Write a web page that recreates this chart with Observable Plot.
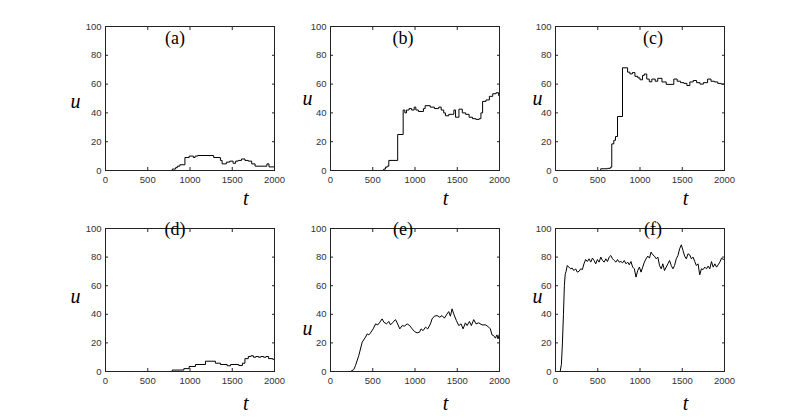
<!DOCTYPE html>
<html><head><meta charset="utf-8">
<script src="https://cdn.jsdelivr.net/npm/d3@7"></script>
<script src="https://cdn.jsdelivr.net/npm/@observablehq/plot@0.6"></script>
<style>
body{margin:0;background:#fff;}
#chart{position:relative;width:803px;height:419px;overflow:hidden;background:#fff;}
.panel{position:absolute;}
</style></head><body><div id="chart"></div>
<script>
// ---- data ----
const xTicks = [0, 500, 1000, 1500, 2000];
const yTicks = [0, 20, 40, 60, 80, 100];
const panelLabels = ["(a)", "(b)", "(c)", "(d)", "(e)", "(f)"];

const tA = [0, 790, 830, 850, 880, 940, 990, 1040, 1060, 1090, 1280, 1360, 1380, 1430, 1470, 1510, 1540, 1570, 1610, 1650, 1690, 1730, 1770, 1910, 1935, 2000];
const uA = [0, 1, 2, 3, 4, 9, 10, 9, 10, 10.4, 9, 7, 4.6, 5.8, 6.5, 5, 6.5, 7, 8, 7, 6.5, 4.6, 3, 4.6, 2.5, 2.5];

const tB = [0, 630, 650, 670, 690, 795, 860, 880, 900, 930, 960, 990, 1010, 1040, 1100, 1120, 1180, 1230, 1280, 1310, 1340, 1360, 1400, 1440, 1460, 1480, 1520, 1560, 1600, 1640, 1680, 1720, 1760, 1780, 1800, 1840, 1880, 1920, 1960, 1990, 2000];
const uB = [0, 1, 2.3, 3, 7, 25, 42, 40, 42, 43, 42, 44, 42, 41, 43, 45, 44, 43, 44, 42, 40, 38, 39, 39, 42, 37, 42.6, 40, 39, 37, 36, 35.5, 36, 40, 48, 49, 51.5, 53.3, 54, 52, 49];

const tC = [0, 535, 615, 650, 666, 690, 710, 734, 793, 853, 880, 910, 940, 975, 1000, 1030, 1050, 1080, 1110, 1140, 1180, 1210, 1260, 1310, 1400, 1440, 1480, 1520, 1555, 1590, 1630, 1670, 1710, 1750, 1800, 1840, 1880, 1920, 1960, 2000];
const uC = [0, 1.2, 1.5, 2.3, 18.5, 21, 23.6, 37.5, 71.3, 68.3, 67.1, 68, 65.4, 64.3, 63, 66, 67, 63.5, 61.6, 63.5, 62, 64, 61.5, 59.8, 63.5, 62, 61, 60.5, 59, 61.5, 62.5, 61, 60, 61, 63.5, 62, 61.5, 60.5, 60, 59.5];

const tD = [0, 789, 927, 990, 1065, 1183, 1301, 1360, 1440, 1480, 1577, 1620, 1650, 1690, 1720, 1750, 1780, 1810, 1840, 1870, 1900, 1930, 1980, 2000];
const uD = [0, 1, 2, 3.5, 4.9, 7.2, 5.8, 4.9, 4, 4.9, 4.2, 5.8, 9, 10.5, 11, 10, 10.5, 10, 10.5, 10, 10.5, 9, 8.5, 8.5];

const tE = [0, 237, 276, 296, 335, 375, 414, 434, 454, 473, 505, 533, 560, 584, 611, 631, 663, 690, 710, 741, 769, 789, 820, 848, 875, 907, 938, 966, 993, 1025, 1053, 1072, 1096, 1124, 1151, 1183, 1202, 1230, 1261, 1293, 1320, 1348, 1380, 1399, 1419, 1439, 1458, 1490, 1518, 1545, 1569, 1596, 1616, 1644, 1667, 1695, 1722, 1754, 1793, 1833, 1860, 1892, 1911, 1931, 1951, 1970, 1982, 2000];
const uE = [0, 0, 1.4, 4.2, 11.2, 20.5, 24, 26.3, 25.6, 27, 29.8, 33.3, 32.6, 34.5, 36.8, 34.5, 33.3, 35, 32.6, 34.5, 36.3, 34, 29.8, 32.1, 31.7, 33.3, 32.1, 29.8, 28, 27, 27.5, 29.8, 28.6, 31, 29.8, 33.3, 36.8, 38.7, 39.1, 38, 39.1, 37.3, 40.3, 41.9, 38.7, 43.8, 40.3, 35.6, 32.1, 33.3, 29.8, 34, 32.1, 35, 32.1, 36.3, 33.3, 34, 32.6, 32.6, 31.7, 29.8, 25.6, 25.1, 23.3, 25.6, 22.8, 26.3];

const tF = [0, 55, 70, 82, 94, 105, 115, 125, 139, 159, 179, 198, 218, 238, 258, 278, 298, 318, 337, 357, 377, 397, 417, 437, 457, 476, 496, 516, 536, 556, 576, 596, 615, 635, 655, 675, 695, 715, 734, 754, 774, 794, 814, 834, 854, 873, 893, 913, 933, 953, 973, 993, 1012, 1032, 1052, 1072, 1092, 1112, 1131, 1151, 1171, 1191, 1211, 1231, 1251, 1270, 1290, 1310, 1330, 1350, 1370, 1390, 1409, 1429, 1449, 1469, 1489, 1509, 1528, 1548, 1568, 1588, 1608, 1628, 1648, 1667, 1687, 1707, 1727, 1747, 1767, 1787, 1806, 1826, 1846, 1866, 1886, 1906, 1925, 1945, 1965, 1985, 2000];
const uF = [0, 0, 5, 20, 40, 60, 68, 70, 74.1, 73, 71.8, 72.3, 70.6, 71.8, 69.5, 70, 71.8, 71.3, 75.3, 78.3, 76.9, 78.8, 76.5, 79.3, 77.6, 75.3, 78.3, 76.5, 80, 77.6, 76.5, 78.8, 76.9, 80, 81.1, 78.8, 77.6, 76.5, 78.3, 76.5, 76.9, 76, 77.6, 75.3, 76.5, 74.6, 76.9, 73, 71.8, 66, 70.6, 73, 69.5, 73, 76.5, 78.8, 80.7, 79.3, 83.5, 81.6, 80.7, 78.8, 80, 74.1, 71.8, 75.3, 70.6, 73, 75.3, 77.6, 74.1, 71.8, 74.1, 78.8, 81.1, 85.8, 88.6, 84.6, 80.7, 78.8, 82.3, 81.6, 78.8, 80, 76.9, 74.1, 75.3, 67.6, 71.8, 71.3, 73, 71.8, 73.7, 71.8, 76.9, 73, 75.3, 73, 74.6, 76.5, 79.3, 78.3, 78.8];

// ---- layout ----
const colLeft = [50, 275, 500];
const rowTop = [0, 202];
const labelDx = [-15, -12, 13];      // panel label offset from frame center (px)
const labelDy = [12, 1];             // panel label centre below frame top (px)
const uDx = [-35, -28, -23];
const uDy = [[3, 0, 0], [-3, 29, -3]];
const tFrac = [0.83, 0.68, 0.77];
const tDy = [28, 32];

const series = [
  {t: tA, u: uA, curve: "step-after"},
  {t: tB, u: uB, curve: "step-after"},
  {t: tC, u: uC, curve: "step-after"},
  {t: tD, u: uD, curve: "step-after"},
  {t: tE, u: uE, curve: "linear"},
  {t: tF, u: uF, curve: "linear"}
];

const chart = document.getElementById("chart");
const serif = "'Liberation Serif', 'DejaVu Serif', serif";
const tickColor = "#222";
const fmt = d3.format("d");

series.forEach((s, i) => {
  const row = Math.floor(i / 3), col = i % 3;
  const data = s.t.map((t, j) => ({t, u: s.u[j]}));
  const W = 225, mL = 55, mR = 1;
  const plotW = W - mL - mR;
  const H = 215, mT = 26, mB = row === 0 ? 45 : 46;
  const blank = () => "";
  const svg = Plot.plot({
    width: W, height: H,
    marginLeft: mL, marginRight: mR, marginTop: mT, marginBottom: mB,
    x: {domain: [0, 2000]},
    y: {domain: [0, 100]},
    style: {background: "transparent", fontFamily: "'Liberation Sans', Arial, sans-serif", fontSize: "9.5px", color: "#333", overflow: "visible"},
    marks: [
      Plot.lineY(data, {x: "t", y: "u", curve: s.curve, stroke: "#000", strokeWidth: 1}),
      Plot.frame({stroke: tickColor, strokeWidth: 1}),
      Plot.axisX(xTicks, {anchor: "bottom", tickSize: 3, dy: -3, tickFormat: blank, label: null, stroke: tickColor}),
      Plot.axisX(xTicks, {anchor: "top", tickSize: 3, dy: 3, tickFormat: blank, label: null, stroke: tickColor}),
      Plot.axisY(yTicks, {anchor: "left", tickSize: 3, dx: 3, tickFormat: blank, label: null, stroke: tickColor}),
      Plot.axisY(yTicks, {anchor: "right", tickSize: 3, dx: -3, tickFormat: blank, label: null, stroke: tickColor}),
      Plot.axisX(xTicks, {anchor: "bottom", tickSize: 0, tickPadding: 6, tickFormat: fmt, label: null, fill: "#333"}),
      Plot.axisY(yTicks, {anchor: "left", tickSize: 0, tickPadding: 4, tickFormat: fmt, label: null, fill: "#333"}),
      Plot.text([panelLabels[i]], {frameAnchor: "top", lineAnchor: "middle", dx: labelDx[col], dy: labelDy[row], fontFamily: serif, fontSize: 18, fill: "#000"}),
      Plot.text(["u"], {frameAnchor: "left", lineAnchor: "middle", dx: uDx[col], dy: uDy[row][col], fontFamily: serif, fontStyle: "italic", fontSize: 20, fill: "#000"}),
      Plot.text(["t"], {frameAnchor: "bottom", lineAnchor: "middle", dx: (tFrac[col] - 0.5) * plotW, dy: tDy[row], fontFamily: serif, fontStyle: "italic", fontSize: 20, fill: "#000"})
    ]
  });
  svg.classList.add("panel");
  svg.style.left = colLeft[col] + "px";
  svg.style.top = rowTop[row] + "px";
  chart.appendChild(svg);
});
</script>
</body></html>
